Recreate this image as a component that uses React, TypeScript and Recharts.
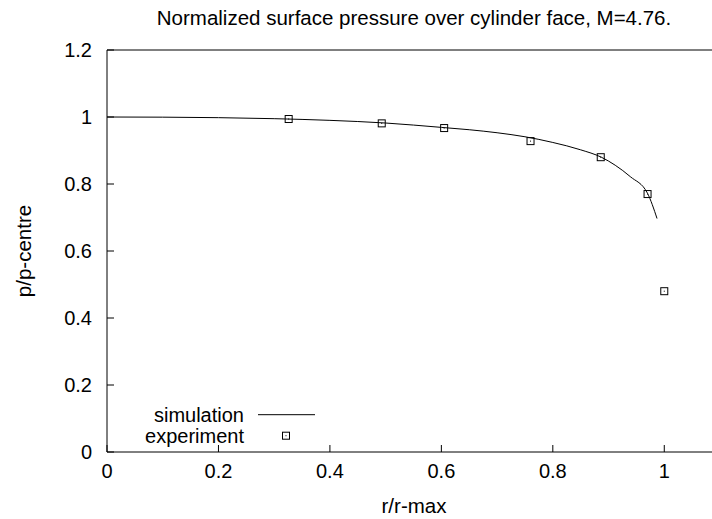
import React from 'react';
import { ComposedChart, Line, Scatter, XAxis, YAxis, Legend, Label } from 'recharts';

// simulation curve
const simX = [0, 0.1, 0.2, 0.3, 0.4, 0.5, 0.6, 0.65, 0.7, 0.75, 0.8, 0.85, 0.887, 0.912, 0.939, 0.97, 0.987];
const simY = [1.0, 0.9995, 0.998, 0.995, 0.99, 0.982, 0.969, 0.962, 0.953, 0.941, 0.924, 0.902, 0.88, 0.856, 0.822, 0.772, 0.697];

// experiment points
const expX = [0.326, 0.493, 0.605, 0.76, 0.886, 0.97, 1.0];
const expY = [0.994, 0.981, 0.967, 0.928, 0.88, 0.77, 0.48];

const xTicks = [0, 0.2, 0.4, 0.6, 0.8, 1];
const yTicks = [0, 0.2, 0.4, 0.6, 0.8, 1, 1.2];

const simData = simX.map((x, i) => ({ x, y: simY[i] }));
const expData = expX.map((x, i) => ({ x, y: expY[i] }));

const FONT = '"Liberation Sans", Arial, Helvetica, sans-serif';
const fmt = (v: number) => String(v);

const SquareDot = (props: any) => {
  const { cx, cy } = props;
  if (cx == null || cy == null) return null;
  return (
    <g>
      <rect x={cx - 3.5} y={cy - 3.5} width={7} height={7} fill="none" stroke="#000" strokeWidth={1} />
      <rect x={cx - 0.5} y={cy - 0.5} width={1} height={1} fill="#000" />
    </g>
  );
};

const LegendBox = (props: any) => {
  // line entry first, like the original key
  const items = [...(props.payload || [])].sort((a: any, b: any) =>
    (a.type === 'line' ? 0 : 1) - (b.type === 'line' ? 0 : 1));
  return (
    <svg width={330} height={50} style={{ display: 'block', overflow: 'visible' }}>
      {items.map((it: any, i: number) => {
        const base = 21.7 + i * 21;
        const mid = base - 7;
        return (
          <g key={it.value}>
            <text x={244} y={base} textAnchor="end" fontSize={20} fontFamily={FONT} fill="#000">
              {it.value}
            </text>
            {it.type === 'line' ? (
              <line x1={258} x2={315} y1={mid} y2={mid} stroke="#000" strokeWidth={1} />
            ) : (
              <SquareDot cx={286} cy={mid} />
            )}
          </g>
        );
      })}
    </svg>
  );
};

const YTitle = (props: any) => {
  const vb = props.viewBox || { x: 0, y: 0, width: 0, height: 0 };
  const cx = vb.x + 23;
  const cy = vb.y + vb.height / 2;
  return (
    <text x={cx} y={cy} transform={`rotate(-90, ${cx}, ${cy})`} textAnchor="middle" dominantBaseline="central"
      fontSize={20.5} fontFamily={FONT} fill="#000">
      p/p-centre
    </text>
  );
};

const XTitle = (props: any) => {
  const vb = props.viewBox || { x: 0, y: 0, width: 0, height: 0 };
  return (
    <text x={414} y={vb.y + 61} textAnchor="middle" fontSize={20.5} fontFamily={FONT} fill="#000">
      r/r-max
    </text>
  );
};

export default function App() {
  return (
    <div style={{ position: 'fixed', left: 0, top: 0, width: 712, height: 519, overflow: 'hidden', background: '#fff' }}>
      <div style={{ position: 'absolute', left: 104, top: 8, width: 620, textAlign: 'center', fontFamily: FONT,
        fontSize: 20.5, lineHeight: '20.5px', color: '#000', zIndex: 2 }}>
        Normalized surface pressure over cylinder face, M=4.76.
      </div>
      <ComposedChart width={727} height={519} margin={{ top: 49, right: 7, bottom: 0, left: 0 }}
        style={{ fontFamily: FONT }}>
        <XAxis xAxisId="top" orientation="top" type="number" dataKey="x" domain={[0, 1.1]} ticks={xTicks}
          allowDataOverflow interval={0} height={1} tick={false} tickSize={-7}
          axisLine={{ stroke: '#000', strokeWidth: 1 }} tickLine={{ stroke: '#000' }} />
        <XAxis type="number" dataKey="x" domain={[0, 1.1]} ticks={xTicks} allowDataOverflow interval={0}
          height={67} tickSize={-7} tickMargin={19} tickFormatter={fmt}
          tick={{ fill: '#000', fontSize: 20, fontFamily: FONT }}
          axisLine={{ stroke: '#000', strokeWidth: 1 }} tickLine={{ stroke: '#000' }}>
          <Label content={<XTitle />} />
        </XAxis>
        <YAxis type="number" dataKey="y" domain={[0, 1.2]} ticks={yTicks} allowDataOverflow interval={0}
          width={107} tickSize={-7} tickMargin={22} tickFormatter={fmt}
          tick={{ fill: '#000', fontSize: 20, fontFamily: FONT }}
          axisLine={{ stroke: '#000', strokeWidth: 1 }} tickLine={{ stroke: '#000' }}>
          <Label content={<YTitle />} />
        </YAxis>
        <Line data={simData} dataKey="y" name="simulation" type="monotone" stroke="#000" strokeWidth={1}
          dot={false} activeDot={false} legendType="line" isAnimationActive={false} />
        <Scatter data={expData} dataKey="y" name="experiment" shape={<SquareDot />} legendType="square"
          isAnimationActive={false} />
        <Legend layout="horizontal" verticalAlign="middle" align="center" content={<LegendBox />}
          wrapperStyle={{ left: 0, top: 400, width: 330, height: 50 }} />
      </ComposedChart>
    </div>
  );
}
